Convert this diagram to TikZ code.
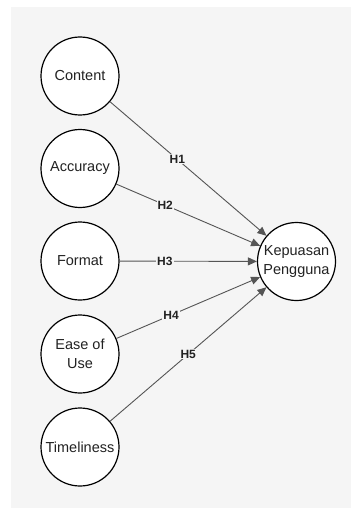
\documentclass[tikz,border=0pt]{standalone}
\usepackage{fontspec}
\setmainfont{Liberation Sans}
\usetikzlibrary{arrows.meta}
\definecolor{panel}{HTML}{F5F5F5}
\definecolor{edgec}{HTML}{555555}
\definecolor{txt}{HTML}{222222}
\begin{document}
\begin{tikzpicture}[x=1pt,y=-1pt,
  var/.style={circle,draw=black,line width=1.2pt,fill=white,minimum size=78pt,inner sep=0pt,align=center,
    font=\fontsize{14.5}{19}\selectfont,text=txt},
  link/.style={draw=edgec,line width=0.9pt,-{Triangle[length=9pt,width=8pt]}},
  hlab/.style={fill=panel,inner sep=1pt,font=\fontsize{12}{14}\selectfont\bfseries,text=txt}]
\useasboundingbox (0,0) rectangle (351,508);
\fill[panel] (11,7) rectangle (351,508);
\node[var] (c) at (80,76) {Content};
\node[var] (a) at (80,168.5) {Accuracy};
\node[var] (f) at (80,261) {Format};
\node[var] (e) at (80,354) {Ease of\\Use};
\node[var] (t) at (80,447) {Timeliness};
\node[var] (k) at (296.5,261.5) {Kepuasan\\Pengguna};
\draw[link] (c) -- node[hlab,pos=0.43] {H1} (k);
\draw[link] (a) -- node[hlab,pos=0.34] {H2} (k);
\draw[link] (f) -- node[hlab,pos=0.33] {H3} (k);
\draw[link] (e) -- node[hlab,pos=0.38] {H4} (k);
\draw[link] (t) -- node[hlab,pos=0.5] {H5} (k);
\end{tikzpicture}
\end{document}
